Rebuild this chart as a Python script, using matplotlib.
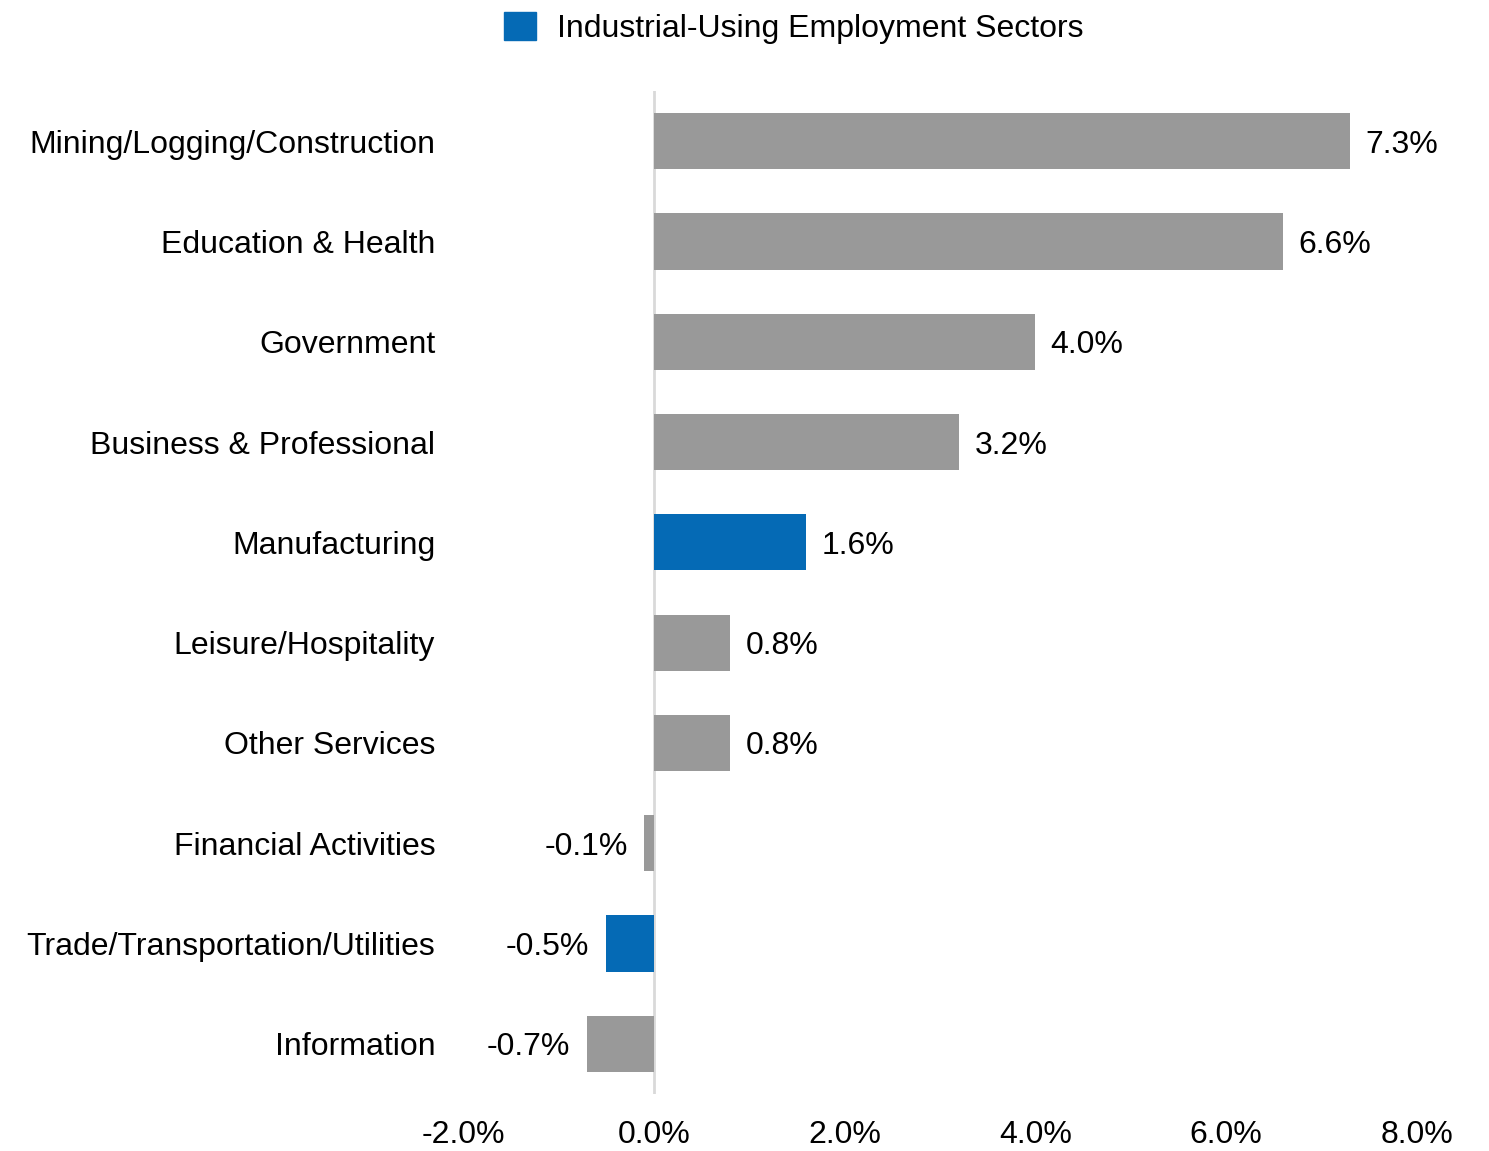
import matplotlib
matplotlib.use("Agg")
import matplotlib.pyplot as plt
from matplotlib.patches import Patch

plt.rcParams['font.family'] = ['Liberation Sans', 'DejaVu Sans']

sectors = [
    "Mining/Logging/Construction",
    "Education & Health",
    "Government",
    "Business & Professional",
    "Manufacturing",
    "Leisure/Hospitality",
    "Other Services",
    "Financial Activities",
    "Trade/Transportation/Utilities",
    "Information",
]
growth = [7.3, 6.6, 4.0, 3.2, 1.6, 0.8, 0.8, -0.1, -0.5, -0.7]
industrial_using = [False, False, False, False, True, False, False, False, True, False]
x_ticks = [-2.0, 0.0, 2.0, 4.0, 6.0, 8.0]
legend_label = "Industrial-Using Employment Sectors"

GRAY = "#999999"
BLUE = "#056AB5"
FS = 23

fig = plt.figure(figsize=(14.89, 11.51), dpi=100)
ax = fig.add_axes([0.3109, 0.0495, 0.6407, 0.8714])

colors = [BLUE if flag else GRAY for flag in industrial_using]
ypos = list(range(len(sectors)))
ax.barh(ypos, growth, height=0.56, color=colors, zorder=2)

ax.set_xlim(-2.0, 8.0)
ax.set_ylim(len(sectors) - 0.5, -0.5)
ax.axvline(0, color="#d9d9d9", linewidth=2, zorder=1)

for spine in ax.spines.values():
    spine.set_visible(False)

ax.set_xticks(x_ticks)
ax.set_xticklabels([f"{t:.1f}%" for t in x_ticks], fontsize=FS)
ax.set_yticks(ypos)
ax.set_yticklabels(sectors, fontsize=FS, va="center_baseline")
ax.tick_params(axis="both", length=0)
ax.tick_params(axis="y", pad=20)
ax.tick_params(axis="x", pad=19)

for y, v in zip(ypos, growth):
    if v >= 0:
        ax.annotate(f"{v:.1f}%", (v, y), xytext=(11, 0), textcoords="offset points",
                    ha="left", va="center_baseline", fontsize=FS)
    else:
        ax.annotate(f"{v:.1f}%", (v, y), xytext=(-12, 0), textcoords="offset points",
                    ha="right", va="center_baseline", fontsize=FS)

fig.legend(handles=[Patch(color=BLUE, label=legend_label)],
           loc="center", bbox_to_anchor=(0.533, 0.976), frameon=False,
           fontsize=FS, handlelength=1.0, handleheight=1.0, handletextpad=0.65)

fig.savefig("out.png", dpi=100)
